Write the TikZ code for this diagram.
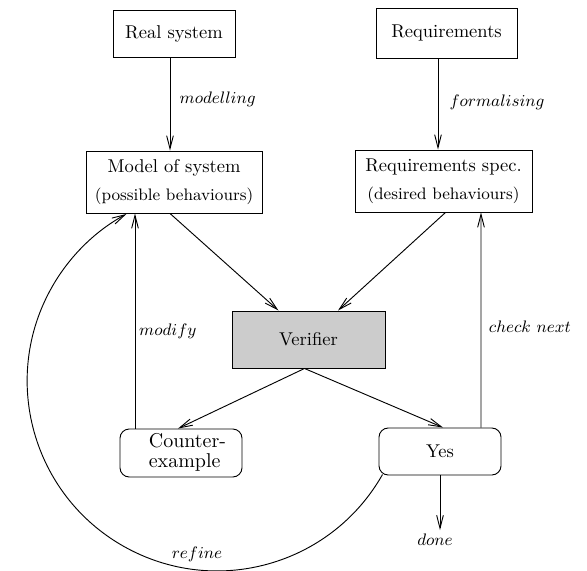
\documentclass[tikz,border=0pt]{standalone}
\usetikzlibrary{arrows.meta,calc}
\begin{document}
\begin{tikzpicture}[x=0.54pt,y=0.54pt,
  box/.style={draw, line width=0.5pt, inner sep=0pt, align=center},
  rbox/.style={box, rounded corners=5pt},
  arr/.style={line width=0.5pt, -{Straight Barb[length=7pt,width=3.6pt]}},
  lab/.style={font=\small, inner sep=0pt}]
\useasboundingbox (0,0) rectangle (587,-571);
% boxes
\node[box, minimum width=65.9pt, minimum height=25.4pt] (real) at (174,-33.5) {Real system};
\node[box, minimum width=76.1pt, minimum height=27pt] (req) at (446.5,-33) {Requirements};
\node[box, minimum width=95pt, minimum height=33.5pt] (model) at (174,-182) {Model of system\\[3pt]{\small (possible behaviours)}};
\node[box, minimum width=95.6pt, minimum height=33.5pt] (spec) at (443.5,-181) {Requirements spec.\\[3pt]{\small (desired behaviours)}};
\node[box, fill=black!20, minimum width=82.6pt, minimum height=30.8pt] (ver) at (308.5,-339.5) {Verifier};
\node[rbox, minimum width=65.9pt, minimum height=25.9pt] (ce) at (181,-453) {\hspace*{7pt}\fontsize{10.8}{12}\selectfont\begin{tabular}{@{}l@{}}Counter-\\[-1.5pt]example\end{tabular}};
\node[rbox, minimum width=65.9pt, minimum height=25.4pt] (yes) at (440,-451.5) {Yes};
\node[lab, inner sep=2pt] (done) at (435,-540) {$done$};
% connectors
\draw[arr] ($(real.south)+(-4,0)$) -- node[lab, pos=0.45, right=5pt] {$modelling$} ($(model.north)+(-4,0)$);
\draw[arr] ($(req.south)+(-8.5,0)$) -- node[lab, pos=0.48, right=6pt] {$formalising$} ($(spec.north)+(-5.5,0)$);
\draw[arr] ($(model.south)+(-4,0)$) -- ($(ver.north)+(-30,0)$);
\draw[arr] ($(spec.south)+(2,0)$) -- ($(ver.north)+(29.5,0)$);
\draw[arr] ($(ver.south)+(-4,0)$) -- ($(ce.north)+(-3,0)$);
\draw[arr] ($(ver.south)+(-4,0)$) -- ($(yes.north)+(3,0)$);
\draw[arr] ($(ce.north)+(-46,0)$) -- node[lab, pos=0.45, right=2pt] {$modify$} ($(model.south)+(-39,0)$);
\draw[arr] ($(yes.north)+(41,0)$) -- node[lab, pos=0.47, right=4pt] {$check\ next$} ($(spec.south)+(37.5,0)$);
\draw[arr] (yes.south) -- (yes.south |- done.north);
\draw[arr] ($(yes.south west)+(4,1)$) arc[start angle=-29.5, end angle=-241.5, radius=102.6pt];
\node[lab] (refine) at (197,-554) {$refine$};
\end{tikzpicture}
\end{document}
